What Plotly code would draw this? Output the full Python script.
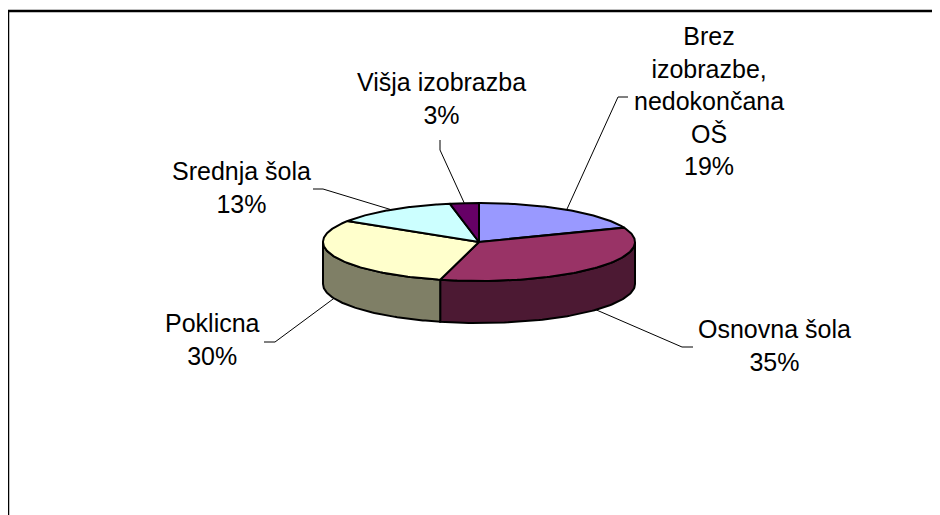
import numpy as np
import plotly.graph_objects as go

# ---- data ----
categories = ["Brez<br>izobrazbe,<br>nedokončana<br>OŠ", "Osnovna šola", "Poklicna", "Srednja šola", "Višja izobrazba"]
values = [19, 35, 30, 13, 3]
colors = ["#9999FF", "#993366", "#FFFFCC", "#CCFFFF", "#660066"]

# ---- layout / geometry (styling) ----
W, H = 940, 515
PAGE_OFF = 8  # browser body margin
CX, CY, RX, RY, DEPTH = 479, 242, 156, 39, 42
FONT = dict(family="Liberation Sans, Arial, sans-serif", size=25, color="black")
label_pos = [(709, 101), (774, 345), (212, 339), (241, 187), (441, 98)]
leader_elbow = [[(618, 97), (628, 97)],
                [(682, 347), (693, 347)],
                [(275, 342), (264, 342)],
                [(323, 189), (313, 189)],
                [(440, 150), (440, 140)]]


def pt(theta, dy=0.0):
    return CX + RX * np.sin(theta), CY - RY * np.cos(theta) + dy


def darker(hexc, f=0.5):
    r, g, b = (int(hexc[i:i + 2], 16) for i in (1, 3, 5))
    return "#%02X%02X%02X" % (int(r * f), int(g * f), int(b * f))


total = float(sum(values))
bounds = np.concatenate([[0], np.cumsum(values)]) / total * 2 * np.pi

fig = go.Figure()
edge = dict(color="black", width=2)

# side walls (front half only: theta in [pi/2, 3pi/2])
for i, c in enumerate(colors):
    a, b = max(bounds[i], np.pi / 2), min(bounds[i + 1], 3 * np.pi / 2)
    if b <= a:
        continue
    th = np.linspace(a, b, 80)
    xt, yt = pt(th)
    xb, yb = pt(th[::-1], DEPTH)
    xs = np.concatenate([xt, xb, xt[:1]])
    ys = np.concatenate([yt, yb, yt[:1]])
    fig.add_trace(go.Scatter(x=xs, y=ys, mode="lines", fill="toself", fillcolor=darker(c),
                             line=edge, hoverinfo="skip", showlegend=False))

# top faces
for i, c in enumerate(colors):
    th = np.linspace(bounds[i], bounds[i + 1], 120)
    xa, ya = pt(th)
    xs = np.concatenate([[CX], xa, [CX]])
    ys = np.concatenate([[CY], ya, [CY]])
    fig.add_trace(go.Scatter(x=xs, y=ys, mode="lines", fill="toself", fillcolor=c,
                             line=edge, hoverinfo="text",
                             text=f"{categories[i].replace('<br>', ' ')}: {values[i]}%",
                             showlegend=False))

# leader lines and labels
for i, cat in enumerate(categories):
    mid = (bounds[i] + bounds[i + 1]) / 2
    front = np.cos(mid) < 0
    sx, sy = pt(mid, DEPTH if front else 0)
    xs = [sx] + [p[0] for p in leader_elbow[i]]
    ys = [sy] + [p[1] for p in leader_elbow[i]]
    fig.add_trace(go.Scatter(x=xs, y=ys, mode="lines", line=dict(color="black", width=1),
                             hoverinfo="skip", showlegend=False))
    pct = round(values[i] / total * 100)
    fig.add_annotation(x=label_pos[i][0], y=label_pos[i][1], xref="x", yref="y",
                       text=f"{cat}<br>{pct}%", showarrow=False, font=FONT,
                       xanchor="center", yanchor="middle", align="center")

# chart frame
fig.add_shape(type="rect", xref="x", yref="y", x0=8, y0=11, x1=W + 40, y1=H + 40,
              line=dict(color="black", width=2.5), fillcolor="rgba(0,0,0,0)", layer="below")

fig.update_layout(
    width=W, height=H, margin=dict(l=0, r=0, t=0, b=0),
    paper_bgcolor="white", plot_bgcolor="white",
    xaxis=dict(range=[PAGE_OFF, W + PAGE_OFF], visible=False, fixedrange=True),
    yaxis=dict(range=[H + PAGE_OFF, PAGE_OFF], visible=False, fixedrange=True),
    showlegend=False,
)

fig.write_html("out.html")
